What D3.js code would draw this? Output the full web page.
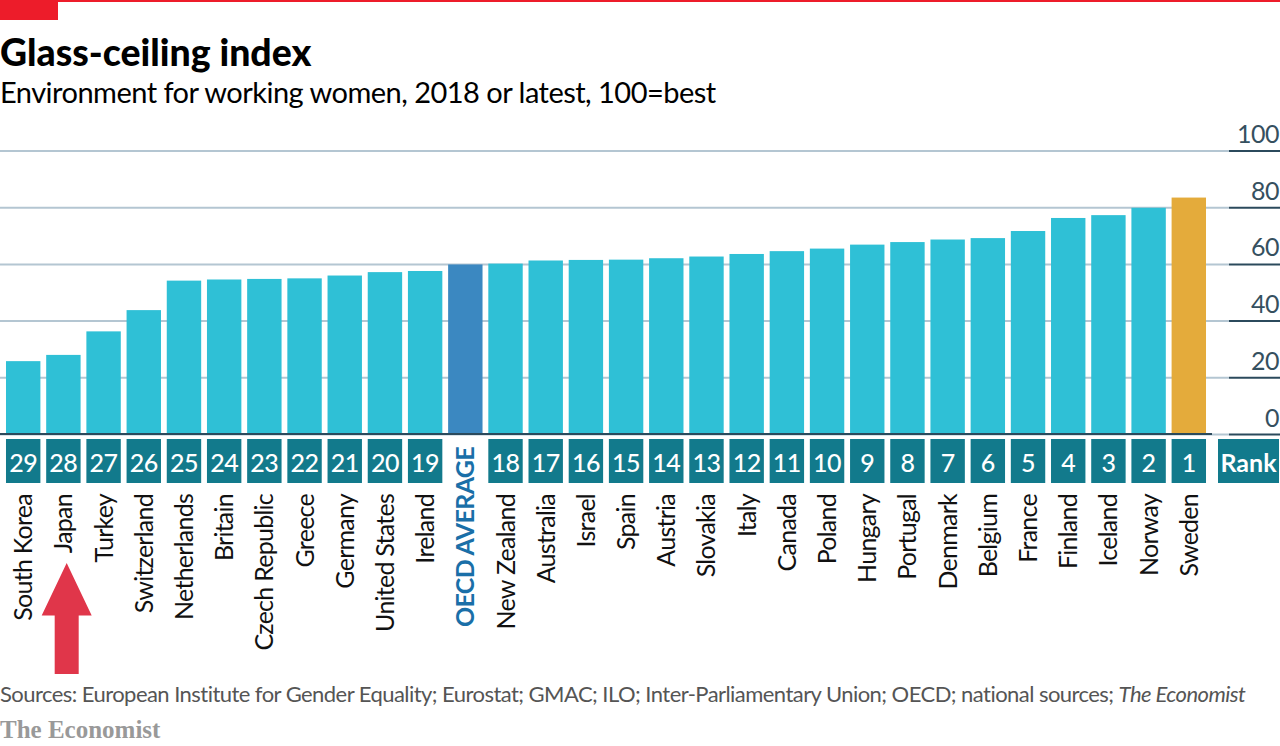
<!DOCTYPE html>
<html>
<head>
<meta charset="utf-8">
<script src="https://cdn.jsdelivr.net/npm/d3@7"></script>
<style>
  html, body { margin: 0; padding: 0; background: #fff; }
  svg { display: block; }
  text { font-family: Lato, sans-serif; }
</style>
</head>
<body>
<div id="graphContainer"></div>
<script>
// Values
var countries = ["South Korea", "Japan", "Turkey", "Switzerland", "Netherlands", "Britain", "Czech Republic", "Greece", "Germany", "United States", "Ireland", "OECD AVERAGE", "New Zealand", "Australia", "Israel", "Spain", "Austria", "Slovakia", "Italy", "Canada", "Poland", "Hungary", "Portugal", "Denmark", "Belgium", "France", "Finland", "Iceland", "Norway", "Sweden"];
var scores = [25.7, 27.9, 36.2, 43.7, 54.1, 54.5, 54.7, 54.9, 55.9, 57.1, 57.5, 59.8, 60.1, 61.2, 61.4, 61.5, 62, 62.6, 63.5, 64.5, 65.4, 66.8, 67.7, 68.6, 69.1, 71.6, 76.2, 77.2, 79.8, 83.4];
var ranks = ["29", "28", "27", "26", "25", "24", "23", "22", "21", "20", "19", "", "18", "17", "16", "15", "14", "13", "12", "11", "10", "9", "8", "7", "6", "5", "4", "3", "2", "1"];
var yTicks = [0, 20, 40, 60, 80, 100];

var width = 1280, height = 746;

var svg = d3.select("#graphContainer")
      .append("svg")
      .attr("width", width)
      .attr("height", height);

var xScale = d3.scaleBand()
    .domain(countries)
    .range([3.1, 1208.9])
    .paddingInner(0.144)
    .paddingOuter(0.072);

var yScale = d3.scaleLinear()
    .domain([0, 100])
    .range([434, 150.5]);

function barColour(name) {
    if (name === "OECD AVERAGE") return "#3b88c1";
    if (name === "Sweden") return "#e4ab3b";
    return "#2fc0d6";
}

// top red tag
svg.append("rect").attr("x", 0).attr("y", 0).attr("width", width).attr("height", 2).attr("fill", "#ed1c2a");
svg.append("rect").attr("x", 0).attr("y", 0).attr("width", 58).attr("height", 20).attr("fill", "#ed1c2a");

svg.append("text").attr("x", 0).attr("y", 66)
    .attr("font-size", 37.4).attr("font-weight", 900).attr("fill", "#000")
    .text("Glass-ceiling index");
svg.append("text").attr("x", 0).attr("y", 103)
    .attr("font-size", 29).attr("letter-spacing", -0.52).attr("fill", "#000")
    .text("Environment for working women, 2018 or latest, 100=best");

// gridlines
var grid = d3.axisLeft(yScale).tickValues(yTicks).tickSize(1229).tickFormat("");
var gridG = svg.append("g")
    .attr("transform", "translate(1229, 0)")
    .call(grid);
gridG.select(".domain").remove();
gridG.selectAll("line").attr("stroke", "#b4c6d2").attr("stroke-width", 2);

// right hand ticks + labels sit above the tick
var yAxis = d3.axisLeft(yScale).tickValues(yTicks).tickSize(51);
var yG = svg.append("g")
    .attr("transform", "translate(1280, 0)")
    .call(yAxis);
yG.select(".domain").remove();
yG.selectAll("line").attr("stroke", "#2b4a5c").attr("stroke-width", 2);
yG.selectAll("text")
    .attr("x", -1)
    .attr("dy", -8)
    .attr("text-anchor", "end")
    .attr("font-size", 25)
    .attr("letter-spacing", -0.5)
    .attr("font-family", "Lato, sans-serif")
    .attr("fill", "#35505f");

svg.selectAll("rect.bar")
    .data(scores)
    .join("rect")
    .attr("class", "bar")
    .attr("x", function(d, i) { return xScale(countries[i]); })
    .attr("y", function(d) { return yScale(d); })
    .attr("width", xScale.bandwidth())
    .attr("height", function(d) { return yScale(0) - yScale(d); })
    .attr("fill", function(d, i) { return barColour(countries[i]); });

// baseline
svg.append("line").attr("x1", 0).attr("x2", 1212)
    .attr("y1", yScale(0)).attr("y2", yScale(0))
    .attr("stroke", "#2b4a5c").attr("stroke-width", 2);

// rank boxes
var boxTop = 439, boxHeight = 44;
var rankG = svg.selectAll("g.rank")
    .data(countries.filter(function(d, i) { return ranks[i] !== ""; }))
    .join("g")
    .attr("class", "rank")
    .attr("transform", function(d) { return `translate(${xScale(d)}, ${boxTop})`; });
rankG.append("rect")
    .attr("width", xScale.bandwidth())
    .attr("height", boxHeight)
    .attr("fill", "#127a8c");
rankG.append("text")
    .attr("x", xScale.bandwidth() / 2)
    .attr("y", 33)
    .attr("text-anchor", "middle")
    .attr("font-size", 25)
    .attr("letter-spacing", -0.5)
    .attr("font-weight", 500)
    .attr("fill", "#fff")
    .text(function(d) { return ranks[countries.indexOf(d)]; });

svg.append("rect").attr("x", 1218).attr("y", boxTop).attr("width", 61).attr("height", boxHeight).attr("fill", "#127a8c");
svg.append("text").attr("x", 1248.5).attr("y", boxTop + 33)
    .attr("text-anchor", "middle").attr("font-size", 25).attr("font-weight", 700).attr("fill", "#fff")
    .text("Rank");

// country labels, rotated
svg.selectAll("text.country")
    .data(countries)
    .join("text")
    .attr("class", "country")
    .attr("transform", function(d) {
        var top = d === "OECD AVERAGE" ? 447 : 494;
        return `translate(${xScale(d) + xScale.bandwidth() / 2 + 9}, ${top}) rotate(-90)`;
    })
    .attr("text-anchor", "end")
    .attr("font-size", 25)
    .attr("letter-spacing", function(d) { return d === "OECD AVERAGE" ? -0.67 : -0.75; })
    .attr("font-weight", function(d) { return d === "OECD AVERAGE" ? 700 : 400; })
    .attr("fill", function(d) { return d === "OECD AVERAGE" ? "#1a6fa8" : "#111"; })
    .text(function(d) { return d; });

// arrow under Japan
var arrowX = xScale("Japan") + xScale.bandwidth() / 2 + 3.3;
svg.append("path")
    .attr("d", `M${arrowX} 563 L${arrowX + 25} 615.5 H${arrowX + 12} V674 H${arrowX - 12} V615.5 H${arrowX - 25} Z`)
    .attr("fill", "#e0364a");

svg.append("text").attr("x", 0).attr("y", 702)
    .attr("font-size", 22).attr("letter-spacing", -0.55).attr("fill", "#555")
    .html('Sources: European Institute for Gender Equality; Eurostat; GMAC; ILO; Inter-Parliamentary Union; OECD; national sources; <tspan font-style="italic">The Economist</tspan>');
svg.append("text").attr("x", 0).attr("y", 738)
    .attr("font-size", 25).attr("font-weight", 700).attr("fill", "#999")
    .style("font-family", "'Liberation Serif', serif")
    .text("The Economist");
</script>
</body>
</html>
